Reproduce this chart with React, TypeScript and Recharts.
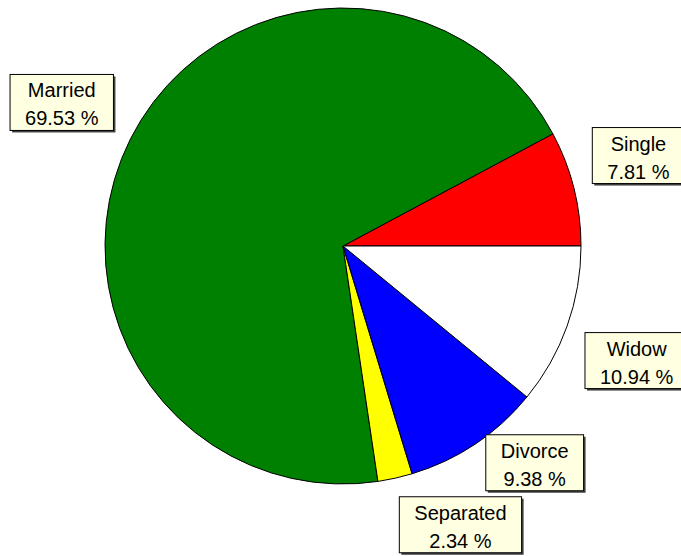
import { PieChart, Pie, Cell } from "recharts";

const categories = ["Single", "Married", "Separated", "Divorce", "Widow"];
const counts = [10, 89, 3, 12, 14];
const colors = ["#FF0000", "#008000", "#FFFF00", "#0000FF", "#FFFFFF"];

const W = 681;
const H = 556;
const CX = 343;
const CY = 246;
const R = 238;
const FONT = "20px 'Liberation Sans', Arial, sans-serif";
const BOX_H = 56;

const total = counts.reduce((a, b) => a + b, 0);
const data = categories.map((name, i) => ({
  name,
  value: counts[i],
  pct: ((counts[i] / total) * 100).toFixed(2) + " %",
}));

function textWidth(s: string) {
  const c = document.createElement("canvas").getContext("2d");
  if (!c) return s.length * 10;
  c.font = FONT;
  return c.measureText(s).width;
}

// place label boxes: corner nearest the pie sits just outside the rim,
// later boxes get pushed away from ones already placed
function layoutLabels() {
  const boxes: { x: number; y: number; w: number; h: number }[] = [];
  let start = 0;
  data.forEach((d) => {
    const sweep = (d.value / total) * 360;
    const mid = start + sweep / 2;
    start += sweep;
    const rad = (mid * Math.PI) / 180;
    const ax = CX + (R + 19) * Math.cos(rad);
    const ay = CY - (R + 19) * Math.sin(rad);
    const w = Math.max(textWidth(d.name), textWidth(d.pct)) + 30;
    const h = BOX_H;
    let x = Math.cos(rad) >= 0 ? ax : ax - w;
    let y = Math.sin(rad) >= 0 ? ay - h : ay;
    const lower = Math.sin(rad) < 0;
    for (const b of boxes) {
      const overlapX = x < b.x + b.w && x + w > b.x;
      const overlapY = y < b.y + b.h && y + h > b.y;
      if (overlapX && overlapY) {
        y = lower ? b.y - h - 6 : b.y + b.h + 6;
      }
    }
    boxes.push({ x, y, w, h });
  });
  return boxes;
}

export default function App() {
  const boxes = layoutLabels();

  const renderLabel = (props: any) => {
    const b = boxes[props.index];
    const d = data[props.index];
    if (!b) return null;
    const tx = b.x + b.w / 2;
    return (
      <g>
        <rect x={b.x + 2} y={b.y + 2} width={b.w} height={b.h} fill="#404040" />
        <rect x={b.x} y={b.y} width={b.w} height={b.h} fill="#FFFFE1" stroke="#000" strokeWidth={1} />
        <text x={tx} y={b.y + 23} textAnchor="middle" fontFamily="'Liberation Sans', Arial, sans-serif" fontSize={20} fill="#000">
          {d.name}
        </text>
        <text x={tx} y={b.y + 51} textAnchor="middle" fontFamily="'Liberation Sans', Arial, sans-serif" fontSize={20} fill="#000">
          {d.pct}
        </text>
      </g>
    );
  };

  return (
    <div style={{ position: "absolute", left: 0, top: 0, width: W, height: H, background: "#fff" }}>
      <PieChart width={W} height={H} margin={{ top: 0, right: 0, bottom: 0, left: 0 }}>
        <Pie
          data={data}
          dataKey="value"
          nameKey="name"
          cx={CX}
          cy={CY}
          outerRadius={R}
          startAngle={0}
          endAngle={360}
          label={renderLabel}
          labelLine={false}
          isAnimationActive={false}
        >
          {data.map((d, i) => (
            <Cell key={d.name} fill={colors[i]} stroke="#000" strokeWidth={1} />
          ))}
        </Pie>
      </PieChart>
    </div>
  );
}
